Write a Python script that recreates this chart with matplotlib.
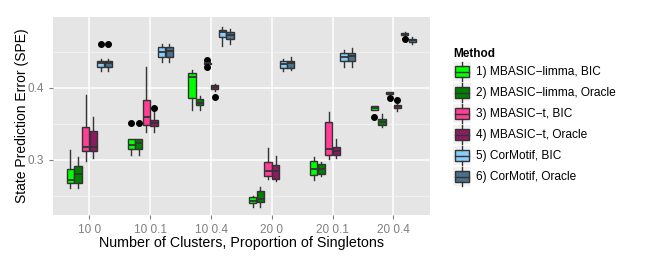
import matplotlib
matplotlib.use('Agg')
import matplotlib.pyplot as plt
from matplotlib.patches import Rectangle, Patch
from matplotlib.lines import Line2D
from matplotlib.legend_handler import HandlerBase

plt.rcParams['font.family'] = ['Liberation Sans', 'DejaVu Sans']

groups = ['10 0', '10 0.1', '10 0.4', '20 0', '20 0.1', '20 0.4']
methods = ['1) MBASIC\u2212limma, BIC', '2) MBASIC\u2212limma, Oracle', '3) MBASIC\u2212t, BIC',
           '4) MBASIC\u2212t, Oracle', '5) CorMotif, BIC', '6) CorMotif, Oracle']
colors = ['#00FF00', '#008000', '#FF3E96', '#8B1C62', '#87CEFA', '#4A708B']

# per group, per method: (whislo, q1, med, q3, whishi, fliers)
stats_10_0 = [(0.261, 0.2675, 0.272, 0.2875, 0.314, []),
              (0.261, 0.268, 0.2806, 0.2917, 0.3046, []),
              (0.299, 0.3125, 0.3175, 0.3462, 0.3907, []),
              (0.3028, 0.3125, 0.3175, 0.3403, 0.3592, []),
              (0.4236, 0.4292, 0.4342, 0.437, 0.4398, [0.461]),
              (0.4236, 0.4296, 0.4351, 0.4379, 0.4403, [0.461])]
stats_10_01 = [(0.3069, 0.3158, 0.3208, 0.3292, 0.3292, [0.3514]),
               (0.3069, 0.3158, 0.3231, 0.3292, 0.3292, [0.3514]),
               (0.3383, 0.349, 0.3601, 0.3833, 0.4296, []),
               (0.3383, 0.3472, 0.3518, 0.356, 0.3661, [0.3722]),
               (0.4356, 0.4425, 0.4494, 0.4564, 0.4611, []),
               (0.4356, 0.4425, 0.4508, 0.4564, 0.4611, [])]
stats_10_04 = [(0.3694, 0.3861, 0.4147, 0.4203, 0.425, []),
               (0.3694, 0.3758, 0.3786, 0.3842, 0.3893, []),
               (0.4335, 0.434, 0.4344, 0.4348, 0.4352, [0.4386, 0.4296]),
               (0.396, 0.3985, 0.401, 0.4035, 0.4055, [0.3879]),
               (0.4588, 0.4712, 0.4772, 0.4806, 0.4842, []),
               (0.4611, 0.4681, 0.4731, 0.4778, 0.4819, [])]
stats_20_0 = [(0.2342, 0.2397, 0.2425, 0.2481, 0.2495, []),
              (0.2342, 0.2411, 0.2463, 0.2569, 0.2629, []),
              (0.2736, 0.2772, 0.2847, 0.2967, 0.3161, []),
              (0.2713, 0.2736, 0.2851, 0.2935, 0.306, []),
              (0.424, 0.4278, 0.4333, 0.4379, 0.4397, []),
              (0.425, 0.4278, 0.4351, 0.4379, 0.4435, [])]
stats_20_01 = [(0.2722, 0.2792, 0.2879, 0.298, 0.3036, []),
               (0.2778, 0.281, 0.2869, 0.2939, 0.2967, []),
               (0.3014, 0.3069, 0.3147, 0.3532, 0.3671, []),
               (0.3028, 0.3069, 0.3125, 0.3185, 0.3292, []),
               (0.4296, 0.437, 0.4425, 0.4486, 0.4528, []),
               (0.4296, 0.437, 0.4439, 0.4486, 0.455, [])]
stats_20_04 = [(0.3695, 0.3699, 0.372, 0.3744, 0.3748, [0.3601]),
               (0.3463, 0.349, 0.3528, 0.3564, 0.3639, []),
               (0.3912, 0.3917, 0.393, 0.3944, 0.3948, [0.3861]),
               (0.3685, 0.3717, 0.3745, 0.3768, 0.3775, [0.3833]),
               (0.4725, 0.4731, 0.475, 0.4768, 0.4775, [0.468]),
               (0.4611, 0.4643, 0.466, 0.468, 0.4703, [])]
all_stats = [stats_10_0, stats_10_01, stats_10_04, stats_20_0, stats_20_01, stats_20_04]

fig = plt.figure(figsize=(6.53, 2.61), dpi=100)
ax = fig.add_axes([0.0812, 0.1762, 0.577, 0.7587])
ax.set_facecolor('#E5E5E5')

bw = 0.125
edge = '#333333'
for gi, gstats in enumerate(all_stats):
    for mi, s in enumerate(gstats):
        pos = gi + 1 + (mi - 2.5) * bw
        d = dict(whislo=s[0], q1=s[1], med=s[2], q3=s[3], whishi=s[4], fliers=s[5])
        ax.bxp([d], positions=[pos], widths=bw * 0.95, patch_artist=True, showcaps=False,
               boxprops=dict(facecolor=colors[mi], edgecolor=edge, linewidth=1.0),
               medianprops=dict(color=edge, linewidth=1.3),
               whiskerprops=dict(color=edge, linewidth=1.0),
               flierprops=dict(marker='o', markerfacecolor='black', markeredgecolor='black',
                               markersize=4), manage_ticks=False)

ax.set_xlim(0.4, 6.6)
ax.set_ylim(0.2236, 0.4986)
ax.set_xticks(range(1, 7))
ax.set_xticklabels(groups)
ax.set_yticks([0.3, 0.4])
ax.set_yticks([0.25, 0.35, 0.45], minor=True)
ax.grid(True, which='major', color='white', linewidth=1.1)
ax.grid(True, which='minor', axis='y', color='#F2F2F2', linewidth=0.6)
ax.set_axisbelow(True)
for sp in ax.spines.values():
    sp.set_visible(False)
ax.tick_params(axis='both', which='major', colors='#7F7F7F', labelcolor='#7F7F7F', labelsize=8.5,
               length=3, width=0.8)
ax.tick_params(axis='y', which='minor', length=0)
ax.set_xlabel('Number of Clusters, Proportion of Singletons', fontsize=10.3, labelpad=0)
ax.set_ylabel('State Prediction Error (SPE)', fontsize=10, labelpad=-1)


class BoxHandler(HandlerBase):
    def create_artists(self, legend, orig_handle, xdescent, ydescent, width, height, fontsize, trans):
        fc = orig_handle.get_facecolor()
        x0, y0 = -xdescent, -ydescent
        bg = Rectangle((x0, y0), width, height, facecolor='#F2F2F2', edgecolor='none', transform=trans)
        box = Rectangle((x0 + width * 0.1, y0 + height * 0.21), width * 0.8, height * 0.58,
                        facecolor=fc, edgecolor=edge, linewidth=1.0, transform=trans)
        med = Line2D([x0 + width * 0.1, x0 + width * 0.9], [y0 + height * 0.5] * 2, color=edge,
                     linewidth=1.0, transform=trans)
        w1 = Line2D([x0 + width / 2] * 2, [y0, y0 + height * 0.21], color=edge, linewidth=1.0, transform=trans)
        w2 = Line2D([x0 + width / 2] * 2, [y0 + height * 0.79, y0 + height], color=edge, linewidth=1.0,
                    transform=trans)
        return [bg, box, med, w1, w2]


handles = [Patch(facecolor=c) for c in colors]
leg = fig.legend(handles, methods, loc='upper left', bbox_to_anchor=(0.6937, 0.8157), frameon=False,
                 fontsize=8.6, title='Method', title_fontproperties=dict(weight='bold', size=8.5),
                 handler_map={Patch: BoxHandler()}, handlelength=1.5, handleheight=2.1,
                 labelspacing=0.15, handletextpad=0.45, borderaxespad=0, borderpad=0)
leg._legend_box.align = 'left'

fig.savefig('out.png', dpi=100)
